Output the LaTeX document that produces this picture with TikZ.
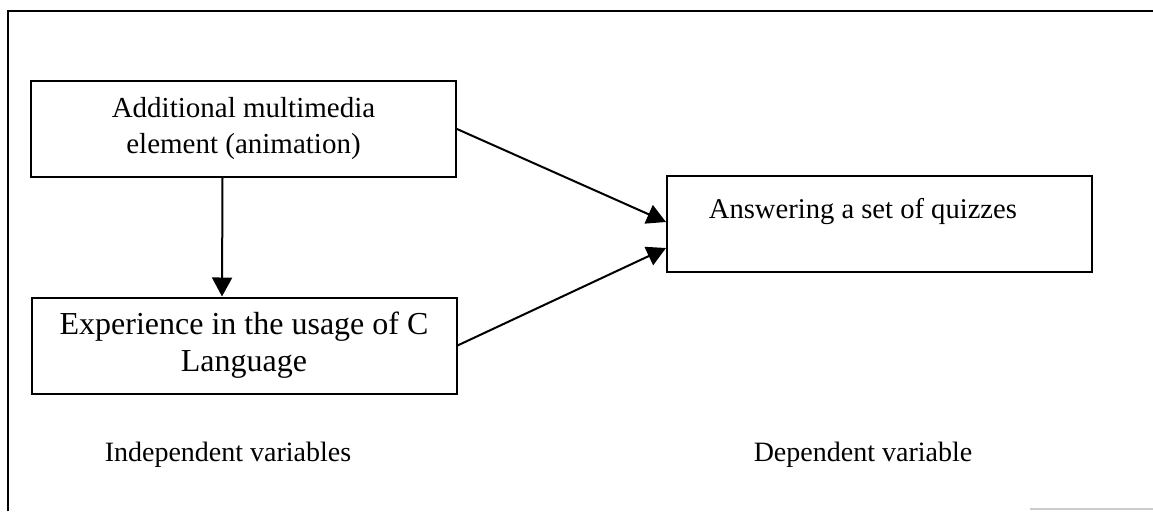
\documentclass[tikz,border=0pt]{standalone}
\usepackage{fontspec}
\setmainfont{Liberation Serif}
\usepackage{tikz}
\usetikzlibrary{arrows.meta, calc}

\begin{document}
\begin{tikzpicture}[
            x=0.5pt, y=-0.5pt,
            box/.style={
                rectangle,
                draw=black,
                line width=1pt,
                minimum width=212.5pt,
                minimum height=48pt,
                inner sep=0pt,
                align=center
            },
            caption/.style={anchor=base, font=\fontsize{14}{17}\selectfont},
            link/.style={-{Triangle[length=9.5pt, width=10pt]}, line width=1pt}
        ]
            \useasboundingbox (0,0) rectangle (1153,511);

            % Frame
            \draw[line width=1pt] (8,511) -- (8,11) -- (1153,11);
            \draw[gray!40, line width=0.8pt] (1030,509) -- (1153,509);

            % Nodes
            \node[box, font=\fontsize{14.5}{18}\selectfont] (multimedia) at (243.5,129) {
                Additional multimedia\\element (animation)
            };

            \node[box, font=\fontsize{16}{18.5}\selectfont] (experience) at (244,345.5) {
                Experience in the usage of C\\Language
            };

            \node[box, font=\fontsize{14.3}{18}\selectfont, text height=11pt, text depth=17pt] (quizzes) at (879.5,224) {
                Answering a set of quizzes\hspace{13pt}
            };

            \node[caption] (indep) at (228,461) {Independent variables};
            \node[caption] (dep) at (863,461) {Dependent variable};

            % Arrows
            \draw[link] ([xshift=-10.5pt]multimedia.south) -- ([xshift=-11pt]experience.north);
            \draw[link] (multimedia.east) -- ([yshift=1pt]quizzes.west);
            \draw[link] (experience.east) -- ([yshift=-12pt]quizzes.west);
        \end{tikzpicture}
\end{document}
